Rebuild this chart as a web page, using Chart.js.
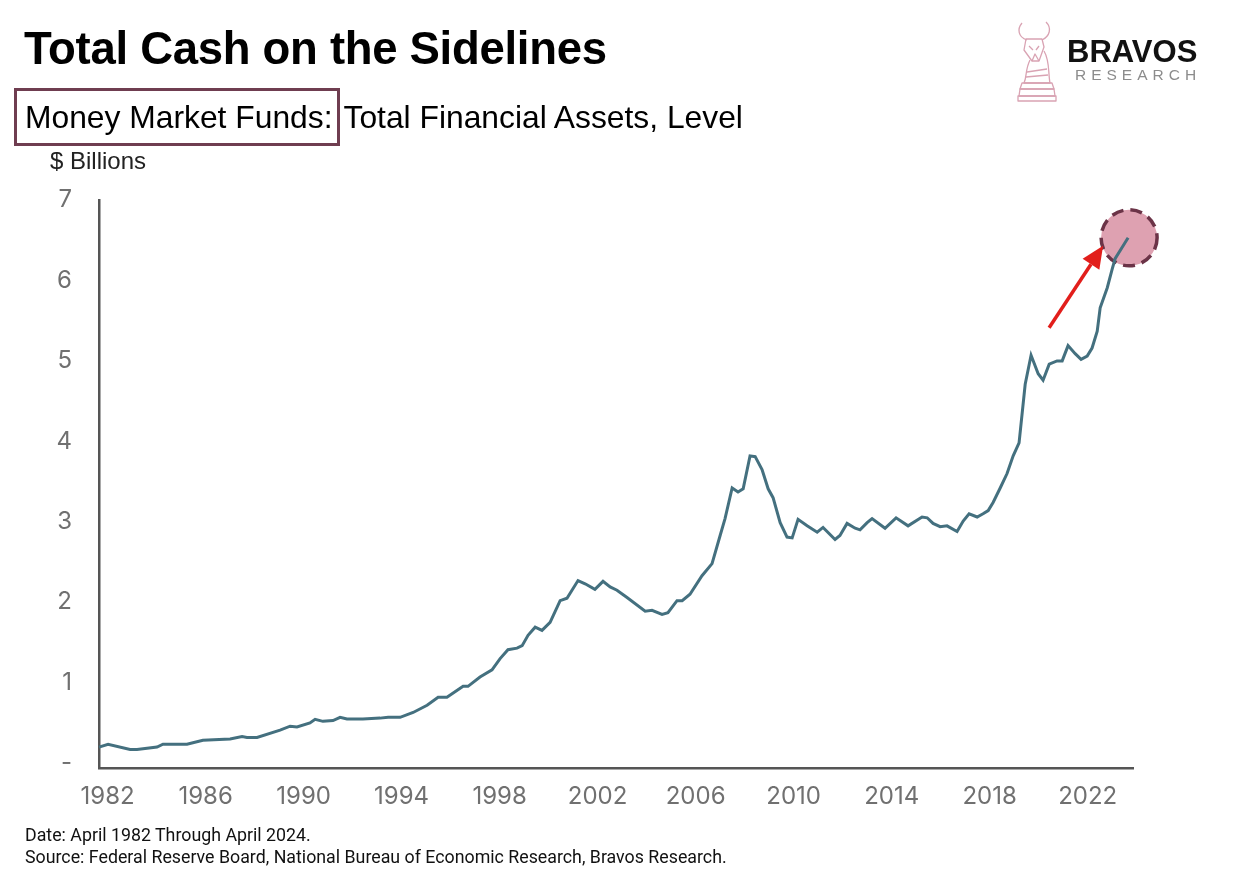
<!DOCTYPE html>
<html>
<head>
<meta charset="utf-8">
<script src="https://cdn.jsdelivr.net/npm/chart.js@4.4.1/dist/chart.umd.min.js"></script>
<style>
  body { margin: 0; background: #fff; width: 1245px; height: 872px; overflow: hidden; position: relative; font-family: "Liberation Sans", Arial, sans-serif; }
  #grafico { position: absolute; left: 0; top: 0; }
  #titulo { position: absolute; left: 24px; top: 23px; font-size: 45.5px; font-weight: bold; color: #000; line-height: 52px; letter-spacing: -0.3px; }
  #sub { position: absolute; left: 14px; top: 88px; font-size: 31.8px; color: #000; line-height: 36px; white-space: nowrap; }
  #sub .caixa { display: inline-block; border: 3px solid #6f3d50; padding: 8px 4px 8px 8px; margin-right: 4px; }
  #sub .resto { display: inline-block; }
  #unidade { position: absolute; left: 50px; top: 147px; font-size: 24px; color: #222; }
  #marca { position: absolute; left: 1067px; top: 34px; font-size: 31px; font-weight: bold; color: #111; }
  #marca2 { position: absolute; left: 1075px; top: 66px; font-size: 15.5px; color: #8c8c8c; letter-spacing: 5px; }
  #rodape { position: absolute; left: 25px; top: 824px; font-family: Roboto, sans-serif; font-size: 17.8px; line-height: 22px; color: #111; }
</style>
</head>
<body>
<canvas id="grafico" width="1245" height="872"></canvas>
<div id="titulo">Total Cash on the Sidelines</div>
<div id="sub"><span class="caixa">Money Market Funds:</span><span class="resto">Total Financial Assets, Level</span></div>
<div id="unidade">$ Billions</div>
<svg width="50" height="84" viewBox="0 0 50 84" style="position:absolute;left:1013px;top:20px" fill="none" stroke="#d9a3b3" stroke-width="1.3" stroke-linejoin="round">
  <path d="M9 3 C4 9 5 17 14 20"/>
  <path d="M33 2 C39 8 37 16 29 20"/>
  <path d="M13 19 L29 19 L31 27 L26 41 L19 41 L11 30 Z"/>
  <path d="M16 26 L20 30 M26 26 L23 30 M19 41 L22 34 L26 41"/>
  <path d="M17 40 C12 50 14 57 11 63 L37 63 C35 53 37 41 31 31"/>
  <path d="M14 52 L34 49 M13 57 L35 55"/>
  <path d="M9 63 L39 63 L41 69 L7 69 Z"/>
  <path d="M7 69 L41 69 L42 76 L6 76 Z"/>
  <path d="M5 76 L43 76 L43 81 L5 81 Z"/>
</svg>
<div id="marca">BRAVOS</div>
<div id="marca2">RESEARCH</div>
<div id="rodape">Date: April 1982 Through April 2024.<br>Source: Federal Reserve Board, National Bureau of Economic Research, Bravos Research.</div>
<script>
// datas em anos decimais (trimestrais aprox.), valores em trilhoes
const anos = [1982.25,1982.62,1983.52,1983.80,1984.62,1984.86,1985.84,1986.49,1987.60,1988.09,
  1988.29,1988.70,1989.64,1990.05,1990.33,1990.86,1991.07,1991.39,1991.80,1992.09,
  1992.37,1993.02,1993.72,1994.05,1994.54,1995.07,1995.64,1996.09,1996.45,1997.11,
  1997.31,1997.80,1998.29,1998.62,1998.94,1999.31,1999.52,1999.76,2000.05,2000.33,
  2000.66,2001.07,2001.35,2001.80,2002.09,2002.49,2002.82,2003.11,2003.39,2003.80,
  2004.54,2004.82,2005.23,2005.47,2005.84,2006.05,2006.37,2006.86,2007.27,2007.60,
  2007.80,2008.09,2008.33,2008.54,2008.82,2009.03,2009.31,2009.56,2009.76,2010.05,
  2010.33,2010.54,2010.78,2011.15,2011.56,2011.80,2012.29,2012.49,2012.78,2013.11,
  2013.31,2013.60,2013.80,2014.33,2014.78,2015.27,2015.84,2016.05,2016.29,2016.58,
  2016.86,2017.27,2017.52,2017.76,2018.09,2018.33,2018.54,2018.74,2019.03,2019.31,
  2019.56,2019.80,2020.05,2020.29,2020.58,2020.78,2021.03,2021.35,2021.56,2021.80,
  2022.09,2022.33,2022.58,2022.78,2022.99,2023.11,2023.40,2023.60,2023.72,2024.25]
const valores = [0.20,0.235,0.17,0.17,0.20,0.235,0.235,0.285,0.30,0.33,
  0.32,0.32,0.41,0.46,0.45,0.50,0.545,0.52,0.53,0.57,
  0.55,0.55,0.56,0.57,0.57,0.63,0.72,0.82,0.82,0.955,
  0.955,1.07,1.16,1.30,1.41,1.43,1.46,1.59,1.69,1.65,
  1.75,2.02,2.05,2.27,2.23,2.16,2.26,2.19,2.15,2.06,
  1.89,1.90,1.85,1.87,2.02,2.02,2.10,2.33,2.48,2.83,
  3.04,3.42,3.37,3.41,3.82,3.81,3.65,3.41,3.30,2.99,
  2.81,2.80,3.03,2.95,2.87,2.93,2.78,2.83,2.98,2.92,
  2.90,2.99,3.04,2.92,3.05,2.95,3.06,3.05,2.98,2.94,
  2.95,2.88,3.01,3.10,3.06,3.10,3.14,3.24,3.42,3.60,
  3.82,3.98,4.71,5.07,4.84,4.76,4.96,5.00,5.00,5.19,
  5.09,5.02,5.06,5.16,5.37,5.66,5.91,6.14,6.27,6.53]
const rotulosX = ['1982','1986','1990','1994','1998','2002','2006','2010','2014','2018','2022']
const ticksY = [0, 1, 2, 3, 4, 5, 6, 7]

const pontos = anos.map((a, i) => ({ x: a, y: valores[i] }))

// circulo tracejado no ultimo ponto + seta vermelha
const marcador = {
  id: 'marcador',
  beforeDatasetsDraw(chart) {
    const meta = chart.getDatasetMeta(0)
    const p = meta.data[meta.data.length - 1]
    const ctx = chart.ctx
    ctx.save()
    ctx.beginPath()
    ctx.arc(p.x + 1, p.y, 28, 0, Math.PI * 2)
    ctx.fillStyle = 'rgba(214, 138, 158, 0.8)'
    ctx.fill()
    ctx.setLineDash([12, 7])
    ctx.lineWidth = 3.5
    ctx.strokeStyle = '#6b3347'
    ctx.stroke()
    ctx.restore()
  },
  afterDatasetsDraw(chart) {
    const meta = chart.getDatasetMeta(0)
    const p = meta.data[meta.data.length - 1]
    const ctx = chart.ctx
    const x0 = p.x - 79, y0 = p.y + 90
    const x1 = p.x - 25, y1 = p.y + 8
    const ang = Math.atan2(y1 - y0, x1 - x0)
    const cab = 22, larg = 10
    const bx = x1 - cab * Math.cos(ang), by = y1 - cab * Math.sin(ang)
    ctx.save()
    ctx.strokeStyle = '#e21e1b'
    ctx.fillStyle = '#e21e1b'
    ctx.lineWidth = 3.5
    ctx.beginPath()
    ctx.moveTo(x0, y0)
    ctx.lineTo(bx, by)
    ctx.stroke()
    ctx.beginPath()
    ctx.moveTo(x1, y1)
    ctx.lineTo(bx + larg * Math.sin(ang), by - larg * Math.cos(ang))
    ctx.lineTo(bx - larg * Math.sin(ang), by + larg * Math.cos(ang))
    ctx.closePath()
    ctx.fill()
    ctx.restore()
  }
}

const grafico = document.getElementById('grafico').getContext('2d')
const meuGrafico = new Chart(grafico, {
  type: 'line',
  data: {
    datasets: [{
      data: pontos,
      borderColor: '#44707f',
      borderWidth: 3,
      pointRadius: 0,
      tension: 0,
      clip: false
    }]
  },
  options: {
    responsive: false,
    animation: false,
    devicePixelRatio: 1,
    layout: { padding: { left: 0, top: 200, right: 112, bottom: 0 } },
    plugins: { legend: { display: false }, tooltip: { enabled: false } },
    scales: {
      x: {
        type: 'linear',
        min: 1982.25,
        max: 2024.45,
        grid: { display: false, drawTicks: false },
        border: { display: true, color: '#555', width: 2.5 },
        afterBuildTicks: (axis) => { axis.ticks = rotulosX.map(r => ({ value: Number(r) + 0.6 })) },
        afterFit: (scale) => { scale.height = 104 },
        ticks: {
          autoSkip: false,
          maxRotation: 0,
          padding: 14,
          color: '#707070',
          font: { family: 'Inter', size: 24 },
          callback: (v, i) => rotulosX[i]
        }
      },
      y: {
        min: -0.06,
        max: 7,
        grid: { display: false, drawTicks: false },
        border: { display: true, color: '#555', width: 2.5 },
        afterBuildTicks: (axis) => { axis.ticks = ticksY.map(v => ({ value: v })) },
        afterFit: (scale) => { scale.width = 99 },
        ticks: {
          padding: 27,
          color: '#707070',
          font: { family: 'Inter', size: 24 },
          callback: (v) => v === 0 ? '-' : String(v)
        }
      }
    }
  },
  plugins: [marcador]
})
</script>
</body>
</html>
